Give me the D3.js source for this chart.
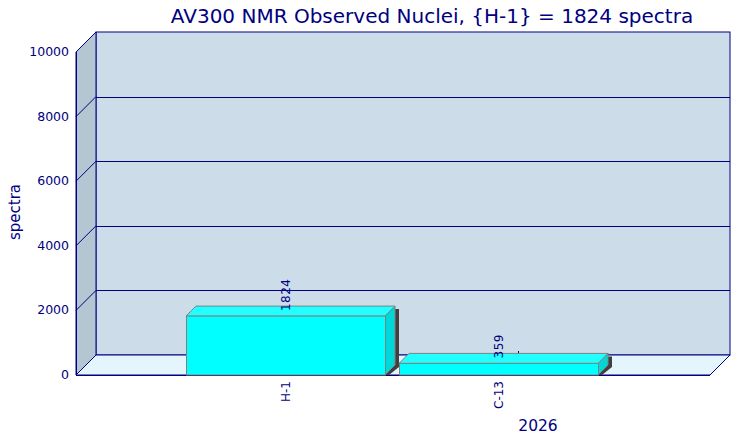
<!DOCTYPE html>
<html>
<head>
<meta charset="utf-8">
<script src="https://cdn.jsdelivr.net/npm/d3@7/dist/d3.min.js"></script>
<style>
html,body{margin:0;padding:0;background:#fff;}
svg{display:block;font-family:"DejaVu Sans",Verdana,sans-serif;}
</style>
</head>
<body>
<svg id="chart" width="740" height="440"></svg>
<script>
const title = "AV300 NMR Observed Nuclei, {H-1} = 1824 spectra";
const categories = ["H-1", "C-13"];
const values = [1824, 359];
const groupLabel = "2026";
const yTicks = [0, 2000, 4000, 6000, 8000, 10000];
const yLabel = "spectra";

const svg = d3.select("#chart");
const navy = "#000080";
const X0 = 76, X1 = 710, DX = 20, DY = -20;
const y = d3.scaleLinear().domain([0, 10000]).range([375, 52]);
const x = d3.scaleBand().domain(categories).range([186, 598]).paddingInner(0.066);
const BD = 10; // bar depth

const base = y(0);

// back wall
svg.append("rect").attr("x", X0 + DX).attr("y", y(10000) + DY)
  .attr("width", X1 - X0).attr("height", y(0) - y(10000))
  .attr("fill", "#ccdde9").attr("stroke", navy).attr("stroke-width", 1);
// left wall
svg.append("polygon")
  .attr("points", [[X0, y(10000)], [X0 + DX, y(10000) + DY], [X0 + DX, base + DY], [X0, base]].join(" "))
  .attr("fill", "#b4c6d2").attr("stroke", navy).attr("stroke-width", 1);
// floor
svg.append("polygon")
  .attr("points", [[X0, base], [X0 + DX, base + DY], [X1 + DX, base + DY], [X1, base]].join(" "))
  .attr("fill", "#e5f5fd").attr("stroke", navy).attr("stroke-width", 1);

// grid lines
const g = svg.append("g").attr("stroke", navy).attr("stroke-width", 1).attr("fill", "none");
yTicks.forEach(t => {
  if (t === 0 || t === 10000) return;
  g.append("line").attr("x1", X0 + DX).attr("x2", X1 + DX)
    .attr("y1", Math.round(y(t) + DY) + 0.5).attr("y2", Math.round(y(t) + DY) + 0.5);
});
yTicks.forEach(t => {
  g.append("line").attr("x1", X0).attr("y1", y(t)).attr("x2", X0 + DX).attr("y2", y(t) + DY);
});
g.append("line").attr("x1", X0 + 0.5).attr("x2", X0 + 0.5).attr("y1", y(10000)).attr("y2", base);
g.append("line").attr("x1", X0).attr("x2", X1).attr("y1", base + 0.5).attr("y2", base + 0.5);

// y tick labels
svg.append("g").selectAll("text").data(yTicks).join("text")
  .attr("x", 69).attr("y", d => y(d) + 4)
  .attr("text-anchor", "end").attr("font-size", 12.5).attr("fill", navy)
  .text(d => d);

// y label
svg.append("text").attr("transform", "translate(20,212) rotate(-90)")
  .attr("text-anchor", "middle").attr("font-size", 15).attr("fill", navy).text(yLabel);

// small tick on floor
svg.append("line").attr("x1", 518.5).attr("x2", 518.5).attr("y1", 351).attr("y2", 355)
  .attr("stroke", navy).attr("stroke-width", 1);

// bars
const bars = svg.append("g");
categories.forEach((c, i) => {
  const x0 = Math.round(x(c)), x1 = Math.round(x(c) + x.bandwidth());
  const top = y(values[i]);
  // shadow
  bars.append("polygon")
    .attr("points", [[x1 + BD, top - BD + 3], [x1 + BD + 4, top - BD + 3], [x1 + BD + 4, base - BD + 2], [x1 + 4, base], [x1, base]].join(" "))
    .attr("fill", "#404040");
  // side
  bars.append("polygon")
    .attr("points", [[x1, top], [x1 + BD, top - BD], [x1 + BD, base - BD], [x1, base]].join(" "))
    .attr("fill", "#00d8d8").attr("stroke", "#808080").attr("stroke-width", 1);
  // top
  bars.append("polygon")
    .attr("points", [[x0, top], [x0 + BD, top - BD], [x1 + BD, top - BD], [x1, top]].join(" "))
    .attr("fill", "#22ffff").attr("stroke", "#808080").attr("stroke-width", 1);
  // front
  bars.append("rect").attr("x", x0 + 0.5).attr("y", top).attr("width", x1 - x0).attr("height", base - top)
    .attr("fill", "#00ffff").attr("stroke", "#808080").attr("stroke-width", 1);
  const cx = (x0 + x1) / 2 + 4;
  // value label
  svg.append("text").attr("transform", `translate(${cx},${top - 5}) rotate(-90)`)
    .attr("text-anchor", "start").attr("font-size", 12).attr("letter-spacing", 0.5).attr("fill", navy)
    .text(values[i]);
  // category label
  svg.append("text").attr("transform", `translate(${cx},${base + 6}) rotate(-90)`)
    .attr("text-anchor", "end").attr("font-size", 12).attr("fill", navy)
    .text(c);
});

// group label
svg.append("text").attr("x", 538).attr("y", 431).attr("text-anchor", "middle")
  .attr("font-size", 15.5).attr("fill", navy).text(groupLabel);

// title
svg.append("text").attr("x", 432).attr("y", 23).attr("text-anchor", "middle")
  .attr("font-size", 20).attr("fill", navy).text(title);
</script>
</body>
</html>
